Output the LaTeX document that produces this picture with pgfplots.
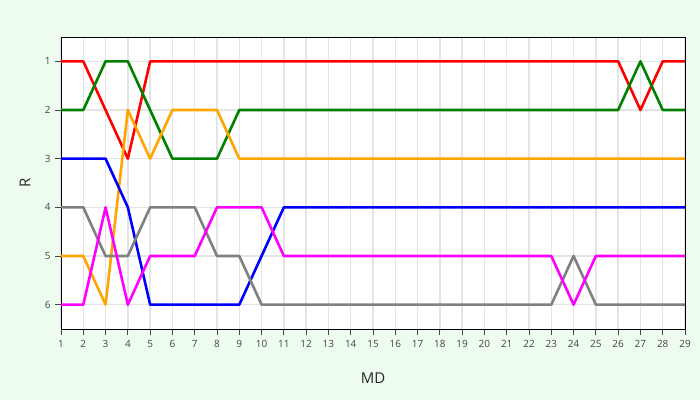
\documentclass[border=0pt]{standalone}
\usepackage{pgfplots}
\pgfplotsset{compat=1.18}
\usepackage{fontspec}
\setmainfont{Open Sans}
\definecolor{bg}{RGB}{237,252,238}
\definecolor{gridc}{RGB}{228,228,228}
\definecolor{tickc}{RGB}{68,68,68}
\definecolor{cRed}{RGB}{255,0,0}
\definecolor{cBlue}{RGB}{0,0,255}
\definecolor{cMag}{RGB}{255,0,255}
\definecolor{cOrange}{RGB}{255,165,0}
\definecolor{cGreen}{RGB}{0,128,0}
\definecolor{cGray}{RGB}{128,128,128}
\begin{document}
\begin{tikzpicture}[x=1bp,y=1bp]
\fill[bg] (0,0) rectangle (700,400);
\begin{axis}[
  at={(61bp,71bp)}, anchor=south west,
  scale only axis, width=624bp, height=292bp,
  xmin=1, xmax=29, ymin=0.5, ymax=6.5, y dir=reverse,
  xtick={1,...,29}, ytick={1,...,6},
  grid=major, grid style={color=gridc, line width=1.5bp},
  axis background/.style={fill=white},
  axis line style={black, line width=0.9bp},
  tick align=outside, tick pos=left, major tick length=6bp,
  tick style={tickc, line width=0.9bp},
  tick label style={font=\fontsize{10}{12}\selectfont, text=tickc},
  /pgf/number format/assume math mode=true,
  xticklabel style={yshift=-2bp},
  yticklabel style={xshift=-1bp},
  every axis x label/.style={at={(axis description cs:0.5,0)}, anchor=center, yshift=-49bp, font=\fontsize{15}{18}\selectfont, text=black!85},
  every axis y label/.style={at={(axis description cs:0,0.5)}, anchor=center, xshift=-36bp, rotate=90, font=\fontsize{15}{18}\selectfont, text=black!85},
  xlabel={MD}, ylabel={R},
  every axis plot/.append style={line width=2.6bp, line join=round},
]
\addplot[cRed] coordinates {(1,1)(2,1)(3,2)(4,3)(5,1)(6,1)(7,1)(8,1)(9,1)(10,1)(11,1)(12,1)(13,1)(14,1)(15,1)(16,1)(17,1)(18,1)(19,1)(20,1)(21,1)(22,1)(23,1)(24,1)(25,1)(26,1)(27,2)(28,1)(29,1)};
\addplot[cGreen] coordinates {(1,2)(2,2)(3,1)(4,1)(5,2)(6,3)(7,3)(8,3)(9,2)(10,2)(11,2)(12,2)(13,2)(14,2)(15,2)(16,2)(17,2)(18,2)(19,2)(20,2)(21,2)(22,2)(23,2)(24,2)(25,2)(26,2)(27,1)(28,2)(29,2)};
\addplot[cOrange] coordinates {(1,5)(2,5)(3,6)(4,2)(5,3)(6,2)(7,2)(8,2)(9,3)(10,3)(11,3)(12,3)(13,3)(14,3)(15,3)(16,3)(17,3)(18,3)(19,3)(20,3)(21,3)(22,3)(23,3)(24,3)(25,3)(26,3)(27,3)(28,3)(29,3)};
\addplot[cBlue] coordinates {(1,3)(2,3)(3,3)(4,4)(5,6)(6,6)(7,6)(8,6)(9,6)(10,5)(11,4)(12,4)(13,4)(14,4)(15,4)(16,4)(17,4)(18,4)(19,4)(20,4)(21,4)(22,4)(23,4)(24,4)(25,4)(26,4)(27,4)(28,4)(29,4)};
\addplot[cGray] coordinates {(1,4)(2,4)(3,5)(4,5)(5,4)(6,4)(7,4)(8,5)(9,5)(10,6)(11,6)(12,6)(13,6)(14,6)(15,6)(16,6)(17,6)(18,6)(19,6)(20,6)(21,6)(22,6)(23,6)(24,5)(25,6)(26,6)(27,6)(28,6)(29,6)};
\addplot[cMag] coordinates {(1,6)(2,6)(3,4)(4,6)(5,5)(6,5)(7,5)(8,4)(9,4)(10,4)(11,5)(12,5)(13,5)(14,5)(15,5)(16,5)(17,5)(18,5)(19,5)(20,5)(21,5)(22,5)(23,5)(24,6)(25,5)(26,5)(27,5)(28,5)(29,5)};
\end{axis}
\end{tikzpicture}
\end{document}
